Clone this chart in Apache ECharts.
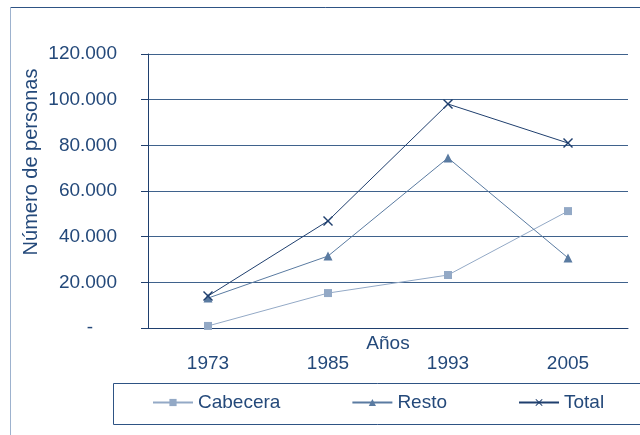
<!DOCTYPE html>
<html>
<head>
<meta charset="utf-8">
<script src="https://cdn.jsdelivr.net/npm/echarts@6/dist/echarts.min.js"></script>
<style>
  html, body { margin: 0; padding: 0; background: #fff; }
  #chart { width: 640px; height: 435px; }
</style>
</head>
<body>
<div id="chart"></div>
<script>
// datos
const years = ['1973', '1985', '1993', '2005'];
const cabecera = [900, 15300, 23200, 51200];
const resto = [13100, 31500, 74500, 30700];
const total = [14000, 46900, 98100, 81000];

const textColor = '#24497A';
const font = 'Liberation Sans, Arial, sans-serif';
const crossPath = 'path://M0,1 L1,0 L5,4 L9,0 L10,1 L6,5 L10,9 L9,10 L5,6 L1,10 L0,9 L4,5 Z';

function miles(v) {
  if (v === 0) return '{dash|-}';
  return String(v).replace(/\B(?=(\d{3})+(?!\d))/g, '.');
}

const chart = echarts.init(document.getElementById('chart'));
chart.setOption({
  animation: false,
  textStyle: { fontFamily: font },
  graphic: [
    // marco exterior
    { type: 'line', shape: { x1: 10.5, y1: 7.5, x2: 660, y2: 7.5 }, style: { stroke: '#2E5384', lineWidth: 1 } },
    { type: 'line', shape: { x1: 10.5, y1: 7.5, x2: 10.5, y2: 460 }, style: { stroke: '#9DB2CE', lineWidth: 1 } },
    // caja de la leyenda
    { type: 'rect', shape: { x: 113.5, y: 383.5, width: 600, height: 41 }, style: { fill: 'none', stroke: '#2E5384', lineWidth: 1 } }
  ],
  grid: { left: 148, right: 12, top: 54, bottom: 107 },
  legend: {
    left: 152,
    top: 393,
    padding: 0,
    itemWidth: 40,
    itemHeight: 9,
    itemGap: 71,
    textStyle: { color: textColor, fontSize: 19, fontFamily: font },
    data: ['Cabecera', 'Resto', 'Total']
  },
  xAxis: {
    type: 'category',
    data: years,
    boundaryGap: true,
    name: 'Años',
    nameLocation: 'middle',
    nameGap: 6,
    nameMoveOverlap: false,
    nameTextStyle: { color: textColor, fontSize: 19, verticalAlign: 'top' },
    axisLine: { lineStyle: { color: '#1F3F6E' } },
    axisTick: { length: 6, lineStyle: { color: '#1F3F6E' } },
    axisLabel: { margin: 26, color: textColor, fontSize: 19 }
  },
  yAxis: {
    type: 'value',
    min: 0,
    max: 120000,
    interval: 20000,
    name: 'Número de personas',
    nameLocation: 'middle',
    nameGap: 107,
    nameMoveOverlap: false,
    nameTextStyle: { color: textColor, fontSize: 20, padding: [0, 0, 0, 58] },
    axisLine: { show: true, lineStyle: { color: '#1F3F6E' } },
    axisTick: { show: true, length: 7, lineStyle: { color: '#1F3F6E' } },
    axisLabel: {
      margin: 31,
      color: textColor,
      fontSize: 19,
      formatter: miles,
      rich: { dash: { color: textColor, fontSize: 19, padding: [0, 24, 0, 0] } }
    },
    splitLine: { lineStyle: { color: '#3F628C', width: 1 } }
  },
  series: [
    {
      name: 'Cabecera',
      type: 'line',
      data: cabecera,
      symbol: 'rect',
      symbolSize: 8,
      lineStyle: { color: '#93A9C6', width: 1 },
      itemStyle: { color: '#93A9C6' }
    },
    {
      name: 'Resto',
      type: 'line',
      data: resto,
      symbol: 'triangle',
      symbolSize: 9,
      lineStyle: { color: '#5A7BA1', width: 1 },
      itemStyle: { color: '#5A7BA1' }
    },
    {
      name: 'Total',
      type: 'line',
      data: total,
      symbol: crossPath,
      symbolSize: 10,
      lineStyle: { color: '#1F3F6E', width: 1 },
      itemStyle: { color: '#1F3F6E' }
    }
  ]
});
</script>
</body>
</html>
